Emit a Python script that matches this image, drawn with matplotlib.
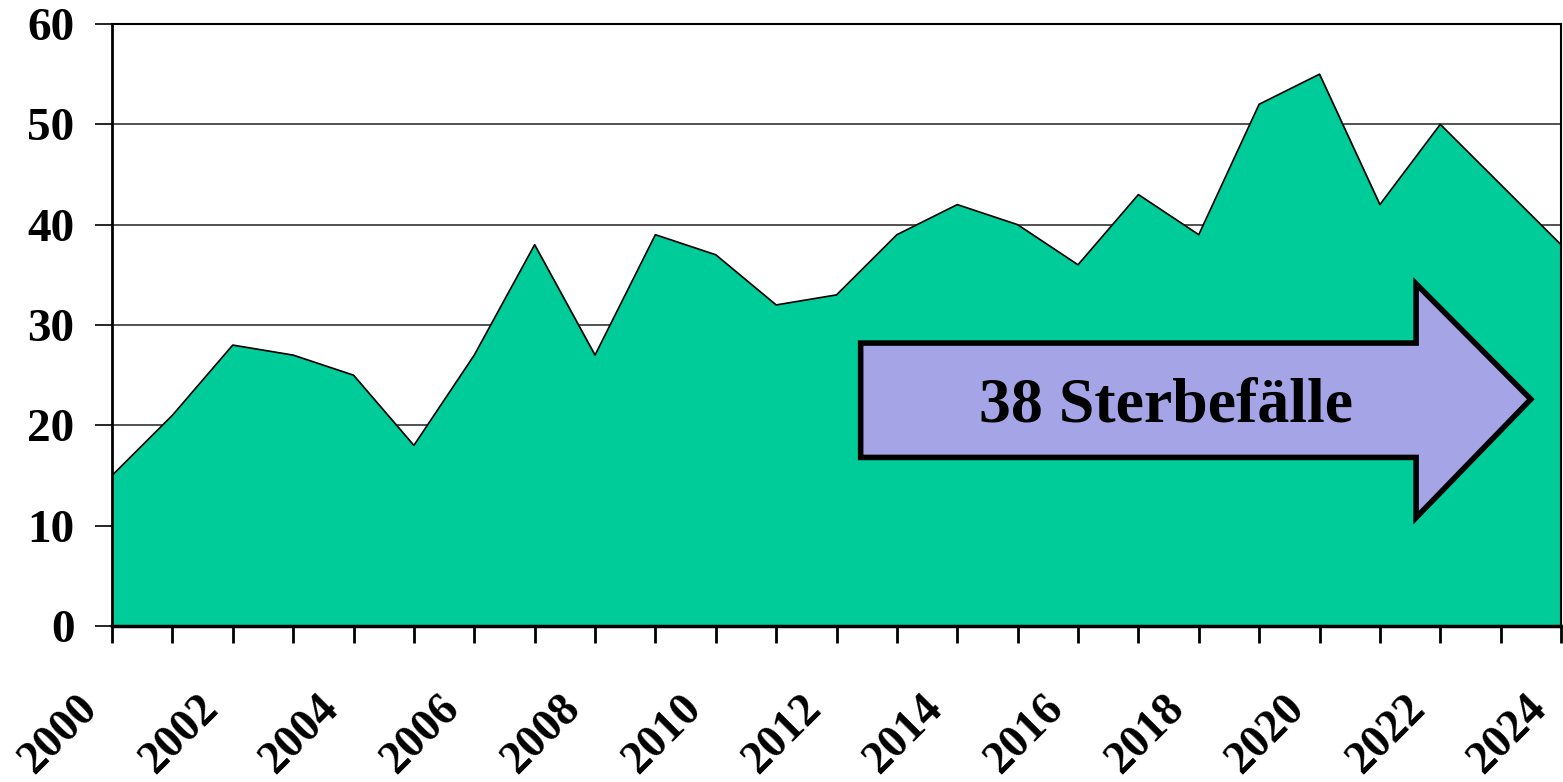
import numpy as np
import matplotlib.pyplot as plt
import matplotlib.transforms as mtransforms
from matplotlib.patches import Polygon

# Daten
jahre = list(range(2000, 2025))
sterbefaelle = [15, 21, 28, 27, 25, 18, 27, 38, 27, 39, 37, 32, 33,
                39, 42, 40, 36, 43, 39, 52, 55, 42, 50, 44, 38]
y_ticks = [0, 10, 20, 30, 40, 50, 60]
x_labels = [str(j) for j in jahre if j % 2 == 0]
pfeil_text = "38 Sterbefälle"

plt.rcParams['font.family'] = ['Liberation Serif', 'DejaVu Serif']
plt.rcParams['font.weight'] = 'bold'

fig = plt.figure(figsize=(15.63, 7.82), dpi=100)
ax = fig.add_axes([112 / 1563, 1 - 626 / 782, (1561 - 112) / 1563, (626 - 24) / 782])

ax.fill_between(jahre, sterbefaelle, 0, color='#00CC99', zorder=2)
ax.plot(jahre, sterbefaelle, color='black', linewidth=1.2, zorder=3)

ax.set_xlim(2000, 2024)
ax.set_ylim(0, 60)
ax.set_yticks(y_ticks)
ax.set_yticklabels([str(v) for v in y_ticks], fontsize=34, fontweight='bold')
ax.set_xticks(jahre)
ax.set_xticklabels([])
ax.yaxis.grid(True, color='#333333', linewidth=1.2, zorder=1)
ax.set_axisbelow(True)

ax.tick_params(axis='y', length=12, width=1.2, pad=15)
ax.tick_params(axis='x', length=12, width=2, direction='out')
for s in ax.spines.values():
    s.set_linewidth(1.5)
    s.set_zorder(4)
ax.spines['left'].set_linewidth(2)
ax.spines['bottom'].set_linewidth(2.5)

# Jahreszahlen schräg
offset = mtransforms.ScaledTranslation(-0.36, -0.62, fig.dpi_scale_trans)
trans = ax.get_xaxis_transform() + offset
for lab in x_labels:
    ax.text(int(lab), 0, lab, transform=trans, rotation=45, rotation_mode='anchor',
            ha='right', va='top', fontsize=33, fontweight='bold', clip_on=False)

# Pfeil (Position in Datenkoordinaten)
px = [2012.4, 2021.6, 2021.6, 2023.5, 2021.6, 2021.6, 2012.4]
py = [28.2, 28.2, 34.1, 22.6, 10.8, 16.8, 16.8]
arrow = Polygon(np.column_stack([px, py]), closed=True, facecolor='#A4A4E6',
                edgecolor='black', linewidth=4, joinstyle='miter', zorder=5)
ax.add_patch(arrow)
ax.text(2017.45, 21.9, pfeil_text, ha='center', va='center', fontsize=46,
        fontweight='bold', zorder=6)

fig.savefig('out.png', dpi=100)
